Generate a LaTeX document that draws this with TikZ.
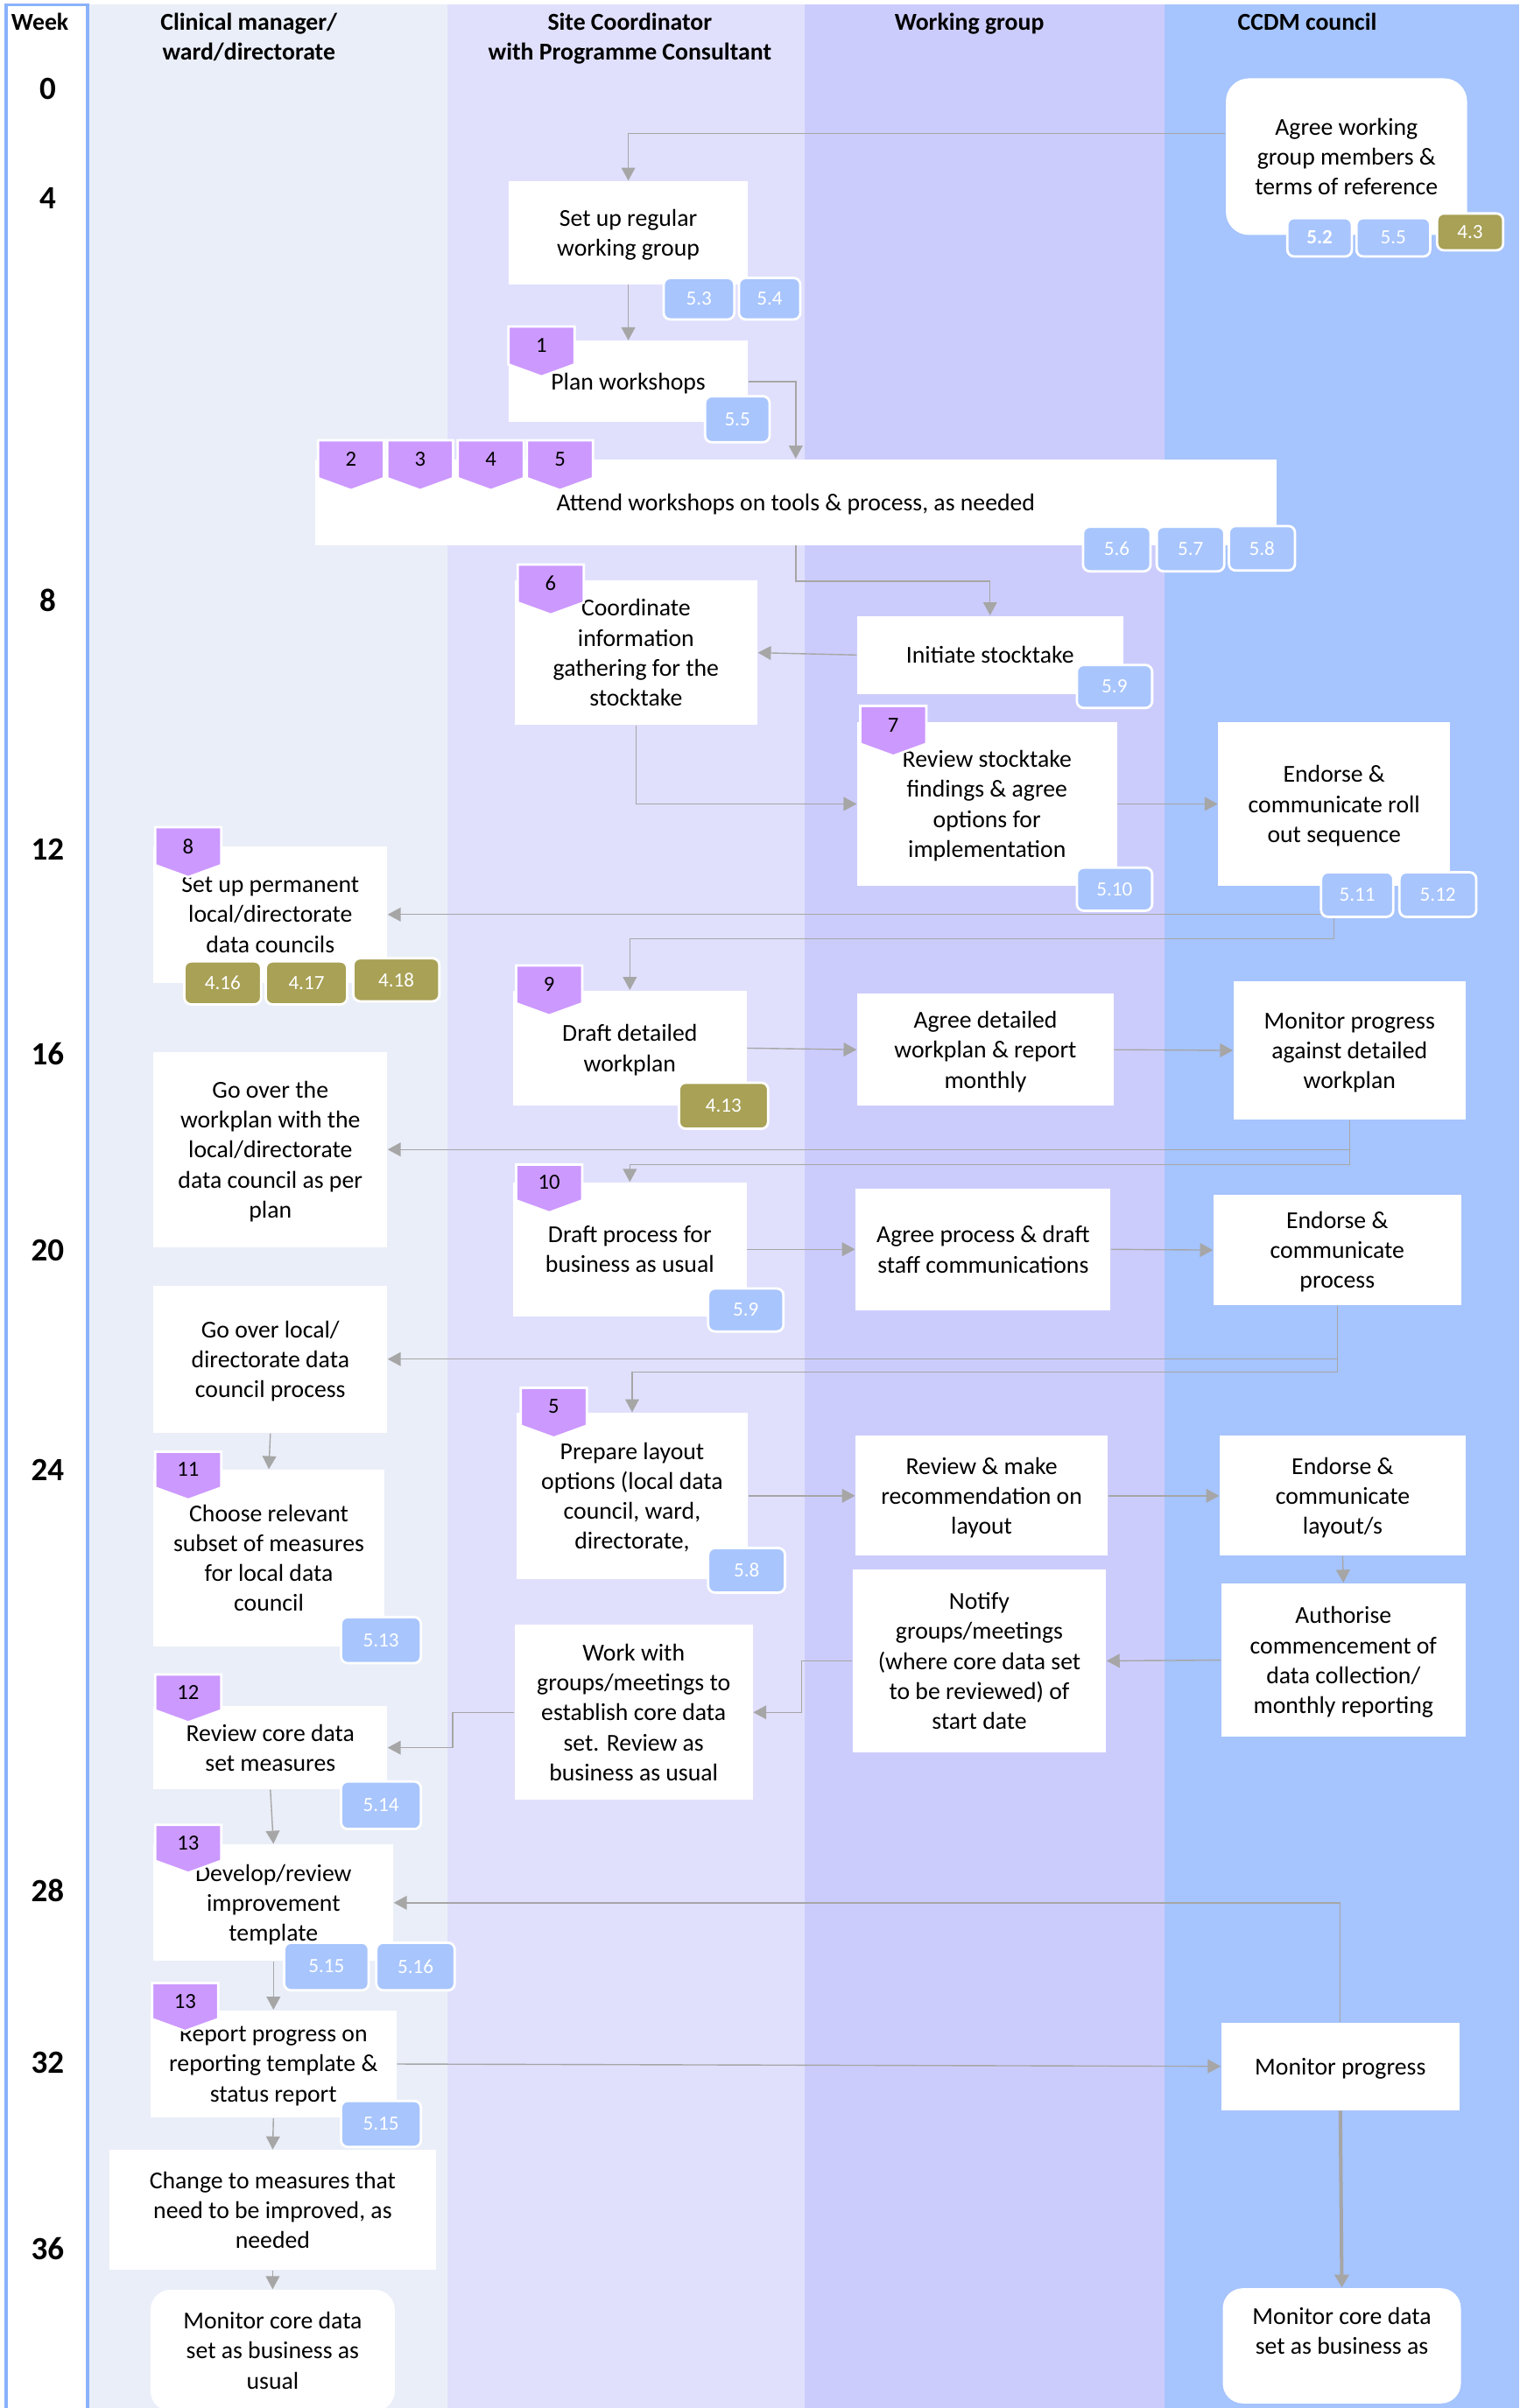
\documentclass[tikz,border=0pt]{standalone}
\usepackage{fontspec}
\setmainfont{Carlito}
\usetikzlibrary{arrows.meta, shapes.symbols}
\definecolor{laneA}{RGB}{234,238,248}
\definecolor{laneB}{RGB}{224,224,253}
\definecolor{laneC}{RGB}{204,204,252}
\definecolor{laneD}{RGB}{166,196,253}
\definecolor{weekline}{RGB}{138,178,250}
\definecolor{tagblue}{RGB}{168,197,253}
\definecolor{tagolive}{RGB}{168,161,86}
\definecolor{badgepurple}{RGB}{204,153,255}
\definecolor{flowgray}{RGB}{166,166,166}
\pgfdeclarelayer{lanes}
\pgfdeclarelayer{links}
\pgfsetlayers{lanes,links,main}

\begin{document}
\begin{tikzpicture}[
    x=0.02cm, y=-0.02cm,
    font=\fontsize{9}{11.1}\selectfont,
    wd/.style 2 args={minimum width=#1*0.02cm, minimum height=#2*0.02cm},
    stepnode/.style={fill=white, align=center, inner sep=0pt, text depth=-1.5pt},
    endnode/.style={stepnode, rounded corners=0.26cm},
    tagb/.style={fill=tagblue, draw=white, line width=0.9pt, rounded corners=2.5pt, text=white, inner sep=0pt, font=\fontsize{7.5}{9}\selectfont},
    tago/.style={tagb, fill=tagolive},
    badge/.style={signal, signal to=south, signal pointer angle=140, fill=badgepurple, draw=white, line width=0.9pt, inner sep=0pt, font=\fontsize{8}{9}\selectfont, wd={43}{26}},
    link/.style={draw=flowgray, line width=0.45pt, -{Triangle[length=1.7mm, width=1.8mm]}},
    linkthick/.style={link, line width=1.3pt},
    weeknum/.style={font=\bfseries\fontsize{12}{14}\selectfont},
    lanehead/.style={font=\bfseries\fontsize{9}{11.1}\selectfont, align=center},
]
\useasboundingbox (0,0) rectangle (989,1568);

% --- swimlanes ---
\begin{pgfonlayer}{lanes}
\fill[white] (0,0) rectangle (989,1568);
\fill[laneA] (57,3) rectangle (291,1568);
\fill[laneB] (291,3) rectangle (524,1568);
\fill[laneC] (524,3) rectangle (758,1568);
\fill[laneD] (758,3) rectangle (989,1568);
\draw[weekline, line width=1.1pt] (4,1570) -- (4,3) -- (57,3) -- (57,1570);
\end{pgfonlayer}

% --- headers and weeks ---
\node[lanehead] (hweek) at (26,14) {Week};
\node[lanehead] (hA) at (162,24) {Clinical manager/\\ward/directorate};
\node[lanehead] (hB) at (410,25) {Site Coordinator\\with Programme Consultant};
\node[lanehead] (hC) at (631,15.5) {Working group};
\node[lanehead] (hD) at (851,14) {CCDM council};
\foreach \wk/\yy in {0/58, 4/129, 8/391, 12/553, 16/686, 20/814, 24/957, 28/1231, 32/1343, 36/1464}
    \node[weeknum] (w\wk) at (31,\yy) {\wk};

% --- weeks 0-8 ---
\node[endnode, rounded corners=0.3cm, wd={157}{102}] (agree) at (876.5,102) {Agree working\\group members \&\\terms of reference};
\node[tagb, wd={42}{25}, font=\bfseries\fontsize{7.5}{9}\selectfont] (t52) at (859,154.5) {5.2};
\node[tagb, wd={48}{25}] (t55a) at (907,154.5) {5.5};
\node[tago, wd={43}{24}] (t43) at (957,151) {4.3};

\node[stepnode, wd={156}{67}] (setup) at (409,151.5) {Set up regular\\working group};
\node[tagb, wd={46}{27}] (t53) at (455,194.5) {5.3};
\node[tagb, wd={40}{27}] (t54) at (501,194.5) {5.4};

\node[stepnode, wd={156}{53}] (plan) at (409,248.5) {Plan workshops};
\node[badge] (b1) at (352.5,225) {1};
\node[tagb, wd={42}{30}] (t55b) at (480,273) {5.5};

\node[stepnode, wd={626}{56}] (attend) at (518,327) {Attend workshops on tools \& process, as needed};
\foreach \n/\bx in {2/228.5, 3/273.5, 4/319.5, 5/364.5}
    \node[badge] (b\n) at (\bx,299) {\n};
\node[tagb, wd={44}{29}] (t56) at (727,357.5) {5.6};
\node[tagb, wd={44}{29}] (t57) at (775,357.5) {5.7};
\node[tagb, wd={43}{29}] (t58a) at (821.5,357) {5.8};

\node[stepnode, wd={158}{94}] (coord) at (414,425) {Coordinate\\information\\gathering for the\\stocktake};
\node[badge] (b6) at (358.5,380) {6};
\node[stepnode, wd={173}{51}] (init) at (644.5,426.5) {Initiate stocktake};
\node[tagb, wd={49}{28}] (t59a) at (725.5,447) {5.9};

% --- weeks 12-16 ---
\node[stepnode, wd={169}{107}] (review) at (642.5,523.5) {Review stocktake\\findings \& agree\\options for\\implementation};
\node[badge] (b7) at (581.5,472) {7};
\node[tagb, wd={49}{28}] (t510) at (725.5,579) {5.10};
\node[stepnode, wd={151}{107}] (endroll) at (868.5,523.5) {Endorse \&\\communicate roll\\out sequence};
\node[tagb, wd={47}{29}] (t511) at (883.5,582.5) {5.11};
\node[tagb, wd={50}{29}] (t512) at (936,582.5) {5.12};

\node[stepnode, wd={152}{89}] (setperm) at (176,595.5) {Set up permanent\\local/directorate\\data councils};
\node[badge] (b8) at (122.5,551) {8};
\node[tago, wd={50}{28}] (t416) at (145,640) {4.16};
\node[tago, wd={53}{28}] (t417) at (199.5,640) {4.17};
\node[tago, wd={56}{28}] (t418) at (258,638) {4.18};

\node[stepnode, wd={152}{75}] (draftwp) at (410,682.5) {Draft detailed\\workplan};
\node[badge] (b9) at (357.5,641) {9};
\node[tago, wd={58}{30}] (t413) at (471,720) {4.13};
\node[stepnode, wd={167}{73}] (agreewp) at (641.5,683.5) {Agree detailed\\workplan \& report\\monthly};
\node[stepnode, wd={151}{90}] (monwp) at (878.5,684) {Monitor progress\\against detailed\\workplan};

% --- weeks 20-24 ---
\node[stepnode, wd={152}{127}] (goover) at (176,748.5) {Go over the\\workplan with the\\local/directorate\\data council as per\\plan};
\node[stepnode, wd={152}{87}] (draftbau) at (410,813.5) {Draft process for\\business as usual};
\node[badge] (b10) at (357.5,770) {10};
\node[tagb, wd={49}{28}] (t59b) at (485.5,853) {5.9};
\node[stepnode, wd={166}{79}] (agreebau) at (640,813.5) {Agree process \& draft\\staff communications};
\node[stepnode, wd={161}{72}] (endbau) at (870.5,814) {Endorse \&\\communicate\\process};

\node[stepnode, wd={152}{96}] (goover2) at (176,885) {Go over local/\\directorate data\\council process};
\node[stepnode, wd={150}{115}] (choose) at (175,1014.5) {Choose relevant\\subset of measures\\for local data\\council};
\node[badge] (b11) at (122.5,957) {11};
\node[tagb, wd={52}{30}] (t513) at (248,1068) {5.13};

\node[stepnode, wd={151}{108}] (prep) at (411.5,974) {Prepare layout\\options (local data\\council, ward,\\directorate,};
\node[badge] (b5b) at (360.5,916) {5};
\node[tagb, wd={50}{29}] (t58b) at (486,1022.5) {5.8};
\node[stepnode, wd={164}{78}] (reviewlay) at (639,974) {Review \& make\\recommendation on\\layout};
\node[stepnode, wd={160}{78}] (endlay) at (874,974) {Endorse \&\\communicate\\layout/s};
\node[stepnode, wd={159}{100}] (auth) at (874.5,1081) {Authorise\\commencement of\\data collection/\\monthly reporting};
\node[stepnode, wd={165}{119}] (notify) at (637.5,1081.5) {Notify\\groups/meetings\\(where core data set\\to be reviewed) of\\start date};
\node[stepnode, wd={155}{114}] (workwith) at (412.5,1115) {Work with\\groups/meetings to\\establish core data\\set. Review as\\business as usual};

% --- weeks 28-36 ---
\node[stepnode, wd={152}{54}] (revcore) at (176,1138) {Review core data\\set measures};
\node[badge] (b12) at (122.5,1102) {12};
\node[tagb, wd={52}{31}] (t514) at (248,1175.5) {5.14};

\node[stepnode, wd={156}{76}] (develop) at (178,1239) {Develop/review\\improvement\\template};
\node[badge] (b13) at (122.5,1200) {13};
\node[tagb, wd={55}{31}] (t515a) at (212.5,1280.5) {5.15};
\node[tagb, wd={51}{31}] (t516) at (270.5,1280.5) {5.16};

\node[stepnode, wd={160}{70}] (report) at (178,1344) {Report progress on\\reporting template \&\\status report};
\node[badge] (b13b) at (120.5,1303) {13};
\node[tagb, wd={52}{30}] (t515b) at (248,1383) {5.15};
\node[stepnode, wd={155}{57}] (monprog) at (872.5,1345.5) {Monitor progress};

\node[stepnode, wd={213}{78}] (change) at (177.5,1439) {Change to measures that\\need to be improved, as\\needed};
\node[endnode, wd={159}{79}] (moncoreA) at (177.5,1530.5) {Monitor core data\\set as business as\\usual};
\node[endnode, wd={155}{75}] (moncoreB) at (873.5,1527.5) {Monitor core data\\set as business as\\\mbox{}};

% --- connectors ---
\begin{pgfonlayer}{links}
\draw[link] ([yshift=0.3cm]agree.west) -| (setup.north);
\draw[link] (setup.south) -- (plan.north);
\draw[link] (plan.east) -| (attend.north);
\draw[link] (attend.south) -- ++(0,23) -| (init.north);
\draw[link] (init.west) -- (coord.east);
\draw[link] (coord.south) |- (review.west);
\draw[link] (review.east) -- (endroll.west);
\draw[link] (endroll.south) |- (setperm.east);
\draw[link] (endroll.south) -- ++(0,34) -| (draftwp.north);
\draw[link] (draftwp.east) -- (agreewp.west);
\draw[link] (agreewp.east) -- (monwp.west);
\draw[link] (monwp.south) |- (goover.east);
\draw[link] (monwp.south) -- ++(0,29) -| (draftbau.north);
\draw[link] (draftbau.east) -- (agreebau.west);
\draw[link] (agreebau.east) -- (endbau.west);
\draw[link] (endbau.south) |- (goover2.east);
\draw[link] (endbau.south) -- ++(0,43) -| (prep.north);
\draw[link] (goover2.south) -- (choose.north);
\draw[link] (prep.east) -- (reviewlay.west);
\draw[link] (reviewlay.east) -- (endlay.west);
\draw[link] (endlay.south) -- (auth.north);
\draw[link] (auth.west) -- (notify.east);
\draw[link] (notify.west) -- ++(-33,0) |- (workwith.east);
\draw[link] (workwith.west) -- ++(-40,0) |- (revcore.east);
\draw[link] (revcore.south) -- (develop.north);
\draw[link] (monprog.north) |- (develop.east);
\draw[link] (develop.south) -- (report.north);
\draw[link] (report.east) -- (monprog.west);
\draw[link] (report.south) -- (change.north);
\draw[link] (change.south) -- (moncoreA.north);
\draw[linkthick] (monprog.south) -- (moncoreB.north);
\end{pgfonlayer}

\end{tikzpicture}
\end{document}
